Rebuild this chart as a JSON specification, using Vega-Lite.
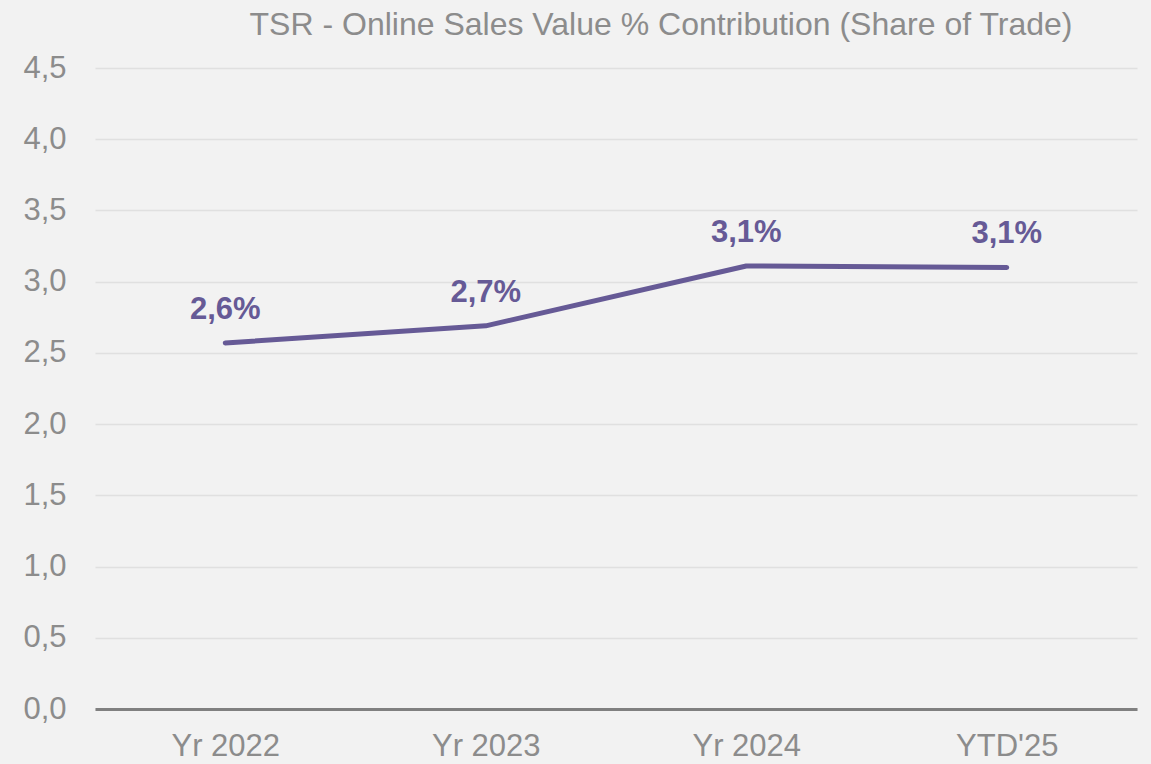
{
  "$schema": "https://vega.github.io/schema/vega-lite/v6.json",
  "autosize": "none",
  "width": 1042,
  "height": 641,
  "padding": {"left": 95, "top": 68, "right": 14, "bottom": 55},
  "background": "#f2f2f2",
  "title": {
    "text": "TSR - Online Sales Value % Contribution (Share of Trade)",
    "font": "Liberation Sans",
    "fontSize": 32,
    "fontWeight": "normal",
    "color": "#8c8c8c",
    "anchor": "middle",
    "dx": 45,
    "offset": 10
  },
  "config": {
    "view": {"stroke": null},
    "font": "Liberation Sans"
  },
  "data": {
    "values": [
      {"period": "Yr 2022", "value": 2.57, "label": "2,6%"},
      {"period": "Yr 2023", "value": 2.69, "label": "2,7%"},
      {"period": "Yr 2024", "value": 3.11, "label": "3,1%"},
      {"period": "YTD'25", "value": 3.10, "label": "3,1%"}
    ]
  },
  "encoding": {
    "x": {
      "field": "period",
      "type": "ordinal",
      "sort": null,
      "scale": {"type": "point", "padding": 0.5},
      "axis": {
        "title": null,
        "labelAngle": 0,
        "labelFont": "Liberation Sans",
        "labelFontSize": 31,
        "labelColor": "#8c8c8c",
        "labelPadding": 22,
        "ticks": false,
        "tickSize": 0,
        "domainColor": "#808080",
        "domainWidth": 3,
        "grid": false
      }
    },
    "y": {
      "field": "value",
      "type": "quantitative",
      "scale": {"domain": [0, 4.5], "nice": false},
      "axis": {
        "title": null,
        "values": [0, 0.5, 1, 1.5, 2, 2.5, 3, 3.5, 4, 4.5],
        "labelExpr": "replace(format(datum.value, '.1f'), '.', ',')",
        "labelFont": "Liberation Sans",
        "labelFontSize": 31,
        "labelColor": "#8c8c8c",
        "labelPadding": 29,
        "ticks": false,
        "tickSize": 0,
        "domain": false,
        "grid": true,
        "gridColor": "#e0e0e0",
        "gridWidth": 1.5
      }
    }
  },
  "layer": [
    {
      "mark": {"type": "line", "color": "#665a96", "strokeWidth": 5, "strokeCap": "round", "strokeJoin": "round"}
    },
    {
      "mark": {"type": "text", "color": "#665a96", "fontSize": 31, "fontWeight": "bold", "font": "Liberation Sans", "dy": -24, "baseline": "alphabetic", "align": "center"},
      "encoding": {"text": {"field": "label"}}
    }
  ]
}
